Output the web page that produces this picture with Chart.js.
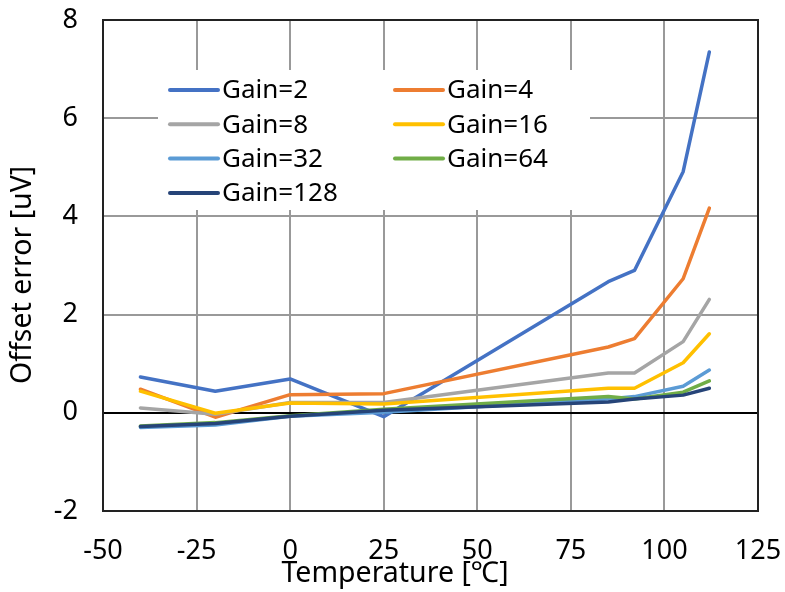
<!DOCTYPE html>
<html>
<head>
<meta charset="utf-8">
<script src="https://cdn.jsdelivr.net/npm/chart.js@4"></script>
<style>
  html, body { margin: 0; padding: 0; background: #fff; }
  #myChart { display: block; }
</style>
</head>
<body>
<canvas id="myChart" width="785" height="592"></canvas>
<script>
// temperatures where each gain was measured
var temps = [-40, -20, 0, 25, 85, 92, 105, 112];
var gain2 = [0.73, 0.44, 0.69, -0.08, 2.67, 2.90, 4.91, 7.35];
var gain4 = [0.48, -0.09, 0.37, 0.39, 1.34, 1.51, 2.73, 4.17];
var gain8 = [0.10, -0.03, 0.21, 0.21, 0.81, 0.81, 1.45, 2.31];
var gain16 = [0.44, -0.01, 0.20, 0.18, 0.50, 0.50, 1.02, 1.61];
var gain32 = [-0.30, -0.25, -0.07, 0.01, 0.28, 0.33, 0.54, 0.87];
var gain64 = [-0.27, -0.20, -0.06, 0.07, 0.33, 0.28, 0.42, 0.65];
var gain128 = [-0.28, -0.22, -0.07, 0.05, 0.22, 0.28, 0.36, 0.50];
var seriesLabels = ['Gain=2', 'Gain=4', 'Gain=8', 'Gain=16', 'Gain=32', 'Gain=64', 'Gain=128'];
var seriesValues = [gain2, gain4, gain8, gain16, gain32, gain64, gain128];
var seriesColors = ['#4472C4', '#ED7D31', '#A5A5A5', '#FFC000', '#5B9BD5', '#70AD47', '#264478'];
var xTitle = 'Temperature [℃]';
var yTitle = 'Offset error [uV]';

var FONT = 'Noto Sans';

function make_datasets() {
    var sets = [];
    for (let i = 0; i < seriesValues.length; i++) {
        sets.push({
            label: seriesLabels[i],
            data: temps.map((t, j) => ({ x: t, y: seriesValues[i][j] })),
            borderColor: seriesColors[i],
            backgroundColor: seriesColors[i],
            borderWidth: 3.5,
            borderJoinStyle: 'round',
            borderCapStyle: 'round',
            pointRadius: 0,
            fill: false,
            tension: 0,
            order: seriesValues.length - i  // later series on top, like excel
        });
    }
    return sets;
}

// legend box inside the plot, two columns
var legendBox = {
    id: 'legendBox',
    afterDatasetsDraw(chart) {
        const c = chart.ctx;
        c.save();
        c.fillStyle = '#fff';
        c.fillRect(158, 70, 432, 140);
        c.font = '26px "' + FONT + '"';
        c.textBaseline = 'middle';
        c.textAlign = 'left';
        chart.data.datasets.forEach((ds, i) => {
            const col = i % 2;
            const row = Math.floor(i / 2);
            const x0 = col === 0 ? 170 : 395;
            const y = 90 + row * 34.3;
            c.strokeStyle = ds.borderColor;
            c.lineWidth = 4;
            c.lineCap = 'round';
            c.beginPath();
            c.moveTo(x0, y);
            c.lineTo(x0 + 48, y);
            c.stroke();
            c.fillStyle = '#000';
            c.fillText(ds.label, x0 + 52, y + 1);
        });
        c.restore();
    }
};

// frame round the plot area, and the axis titles (placed off-centre like the original)
var frame = {
    id: 'frame',
    afterDraw(chart) {
        const a = chart.chartArea;
        const c = chart.ctx;
        c.save();
        c.strokeStyle = '#222';
        c.lineWidth = 2;
        c.strokeRect(a.left, a.top, a.right - a.left, a.bottom - a.top);
        c.fillStyle = '#000';
        c.font = '28.5px "' + FONT + '"';
        c.textAlign = 'center';
        c.textBaseline = 'middle';
        c.fillText(xTitle, 395, 574);
        c.translate(23, 275);
        c.rotate(-Math.PI / 2);
        c.fillText(yTitle, 0, 0);
        c.restore();
    }
};

var ctx = document.getElementById('myChart');
var chart = new Chart(ctx, {
    type: 'line',
    data: { datasets: make_datasets() },
    options: {
        responsive: false,
        animation: false,
        layout: { padding: { top: 20, right: 27, bottom: 0, left: 0 } },
        plugins: {
            legend: { display: false },
            tooltip: { enabled: false }
        },
        scales: {
            x: {
                type: 'linear',
                min: -50,
                max: 125,
                afterFit: (s) => { s.height = 81; s.paddingLeft = 0; s.paddingRight = 0; },
                ticks: {
                    stepSize: 25,
                    padding: 24,
                    color: '#000',
                    font: { family: FONT, size: 27 }
                },
                grid: { color: '#999', lineWidth: 2, drawTicks: false },
                border: { display: false }
            },
            y: {
                min: -2,
                max: 8,
                afterFit: (s) => { s.width = 103; s.paddingTop = 0; s.paddingBottom = 0; },
                ticks: {
                    stepSize: 2,
                    padding: 25,
                    color: '#000',
                    font: { family: FONT, size: 27 }
                },
                grid: {
                    color: (c) => (c.tick && c.tick.value === 0 ? '#000' : '#999'),
                    lineWidth: 2,
                    drawTicks: false
                },
                border: { display: false }
            }
        }
    },
    plugins: [legendBox, frame]
});
</script>
</body>
</html>
